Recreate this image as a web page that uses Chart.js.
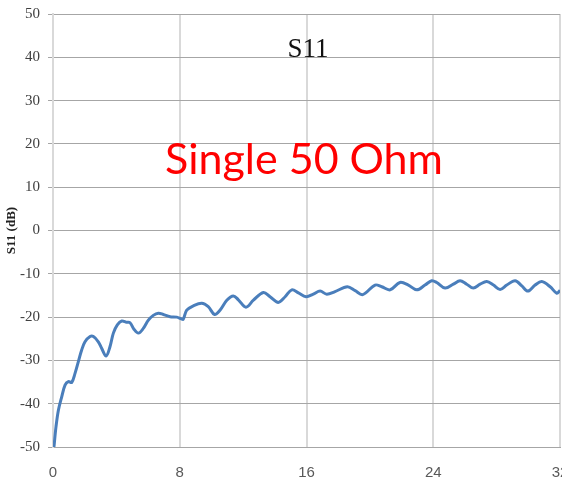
<!DOCTYPE html>
<html>
<head>
<meta charset="utf-8">
<script src="https://cdn.jsdelivr.net/npm/chart.js@4.4.0/dist/chart.umd.min.js"></script>
<style>
  html, body { margin: 0; padding: 0; background: #fff; }
  canvas { display: block; }
</style>
</head>
<body>
<canvas id="s11Chart" width="562" height="482"></canvas>
<script>
// Frequency (GHz) and S11 (dB)
const freq = [0.06, 0.19, 0.34, 0.55, 0.76, 0.97, 1.18, 1.39, 1.6, 1.81, 2.02, 2.34, 2.55, 2.86, 3.07, 3.35,
  3.6, 3.81, 4.06, 4.34, 4.65, 4.86, 5.11, 5.39, 5.7, 6.02, 6.33, 6.65, 6.96, 7.39, 7.81, 8.1, 8.22, 8.44,
  8.86, 9.39, 9.8, 10.2, 10.54, 10.97, 11.38, 11.7, 12.18, 12.65, 13.28, 13.7, 14.22, 14.65, 15.07, 15.49,
  15.97, 16.43, 16.86, 17.28, 17.8, 18.58, 19.07, 19.55, 20.33, 20.75, 21.28, 21.9, 22.43, 22.96, 23.48,
  23.9, 24.22, 24.75, 25.27, 25.69, 26.11, 26.53, 26.96, 27.38, 27.8, 28.22, 28.64, 29.17, 29.59, 29.97,
  30.43, 30.85, 31.38, 31.8, 32];
const s11 = [-50, -45.3, -41.5, -38.4, -35.7, -34.9, -35.1, -33.0, -30.3, -27.6, -25.7, -24.5, -24.5, -25.7, -27.2, -29.0,
  -26.8, -23.7, -21.8, -20.9, -21.2, -21.3, -22.8, -23.7, -22.6, -20.7, -19.6, -19.1, -19.4, -19.9, -20.0, -20.4, -20.5, -18.4,
  -17.4, -16.8, -17.6, -19.4, -18.4, -16.1, -15.1, -16.0, -17.7, -16.1, -14.3, -15.3, -16.6, -15.3, -13.7, -14.4,
  -15.3, -14.7, -14.0, -14.7, -14.1, -13.0, -13.9, -14.8, -12.6, -13.0, -13.7, -12.0, -12.6, -13.7, -12.6,
  -11.6, -12.0, -13.3, -12.4, -11.6, -12.4, -13.3, -12.4, -11.8, -12.6, -13.6, -12.6, -11.6, -12.8, -14.0,
  -12.6, -11.8, -13.0, -14.5, -13.8];
const xTicks = [0, 8, 16, 24, 32];
const yTicks = [-50, -40, -30, -20, -10, 0, 10, 20, 30, 40, 50];

const points = freq.map((f, i) => ({ x: f, y: s11[i] }));

// overlay texts: chart title and the red caption
const overlayText = {
  id: 'overlayText',
  afterDatasetsDraw(chart) {
    const ctx = chart.ctx;
    ctx.save();
    ctx.textAlign = 'center';
    ctx.textBaseline = 'alphabetic';
    ctx.fillStyle = '#111';
    ctx.font = '27px "Liberation Serif", serif';
    ctx.fillText('S11', 308, 57);
    ctx.fillStyle = '#ff0000';
    ctx.font = '43px Lato, "Open Sans", sans-serif';
    ctx.fillText('Single 50 Ohm', 304, 174);
    ctx.restore();
  }
};

const ctx = document.getElementById('s11Chart').getContext('2d');
new Chart(ctx, {
  type: 'line',
  data: {
    datasets: [{
      label: 'S11',
      data: points,
      borderColor: '#4a7ebb',
      borderWidth: 3,
      pointRadius: 0,
      tension: 0.35,
      fill: false
    }]
  },
  options: {
    responsive: false,
    animation: false,
    layout: { padding: { top: 14, right: 2, left: 0, bottom: 0 } },
    plugins: {
      legend: { display: false },
      tooltip: { enabled: false }
    },
    scales: {
      x: {
        type: 'linear',
        min: 0,
        max: 32,
        afterBuildTicks: axis => { axis.ticks = xTicks.map(v => ({ value: v })); },
        afterFit: axis => {
          axis.height = 35;
          axis.paddingLeft = 0;
          axis.paddingRight = 0;
        },
        grid: { color: '#d9d9d9', lineWidth: 2, drawTicks: false },
        border: { color: '#a6a6a6', width: 1 },
        ticks: {
          padding: 17,
          color: '#595959',
          maxRotation: 0,
          font: { family: '"Liberation Sans Narrow", "Liberation Sans", sans-serif', size: 15 }
        }
      },
      y: {
        min: -50,
        max: 50,
        afterBuildTicks: axis => { axis.ticks = yTicks.map(v => ({ value: v })); },
        afterFit: axis => {
          axis.width = 53;
          axis.paddingTop = 0;
          axis.paddingBottom = 0;
        },
        grid: { color: '#a6a6a6', lineWidth: 1, tickLength: 5 },
        border: { color: '#d9d9d9', width: 2 },
        ticks: {
          padding: 8,
          color: '#404040',
          font: { family: '"Liberation Serif", serif', size: 15 }
        },
        title: {
          display: true,
          text: 'S11 (dB)',
          color: '#222',
          padding: { top: 4, bottom: 0 },
          font: { family: '"Liberation Serif", serif', size: 13, weight: 'bold' }
        }
      }
    }
  },
  plugins: [overlayText]
});
</script>
</body>
</html>
